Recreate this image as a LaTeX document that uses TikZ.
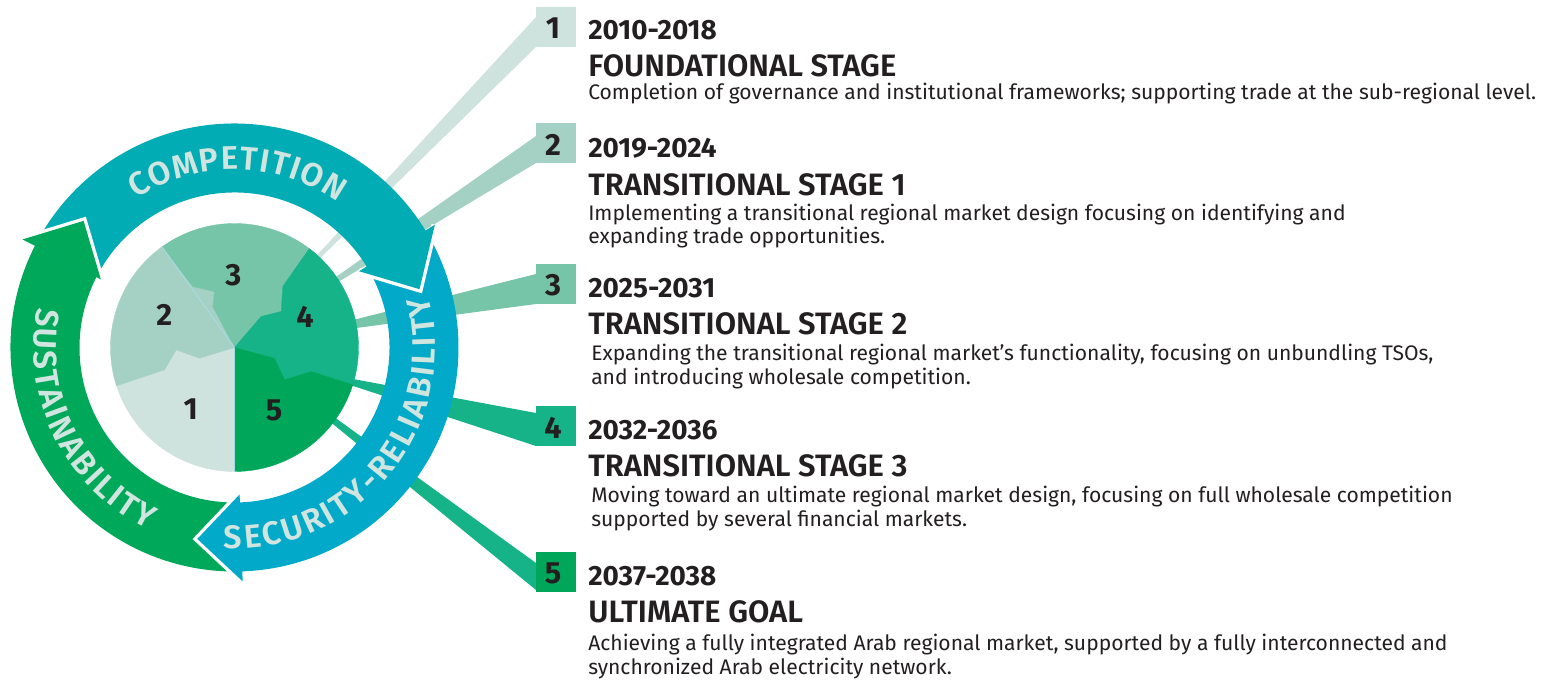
\documentclass[tikz,border=0pt]{standalone}
\usepackage{fontspec}
\setmainfont{Fira Sans}
\newfontfamily\semib{Fira Sans SemiBold}
\usetikzlibrary{decorations.text}
\definecolor{cA}{HTML}{CFE3DE}
\definecolor{cB}{HTML}{A4D1C3}
\definecolor{cC}{HTML}{76C5A8}
\definecolor{cD}{HTML}{17B388}
\definecolor{cE}{HTML}{00A75B}
\definecolor{cComp}{HTML}{02ACB4}
\definecolor{cSec}{HTML}{02A9C8}
\definecolor{cSus}{HTML}{00A85A}
\definecolor{cT}{HTML}{D0E5E0}
\definecolor{cK}{HTML}{231F20}
\definecolor{cL}{HTML}{A9D9E1}
\newcommand\ringfont{\fontsize{24.5}{24.5}\selectfont\semib}
\begin{document}
\begin{tikzpicture}[x=0.75pt,y=0.75pt,
  numbox/.style={minimum size=30pt, inner sep=0pt, outer sep=0pt},
  digit/.style={inner sep=0pt, font=\fontsize{23}{23}\selectfont\bfseries, text=cK},
  yr/.style={anchor=base west, inner sep=0pt, font=\fontsize{20.9}{20.9}\selectfont\bfseries, text=cK},
  hd/.style={anchor=base west, inner sep=0pt, font=\fontsize{23.2}{23.2}\selectfont\semib, text=cK},
  bd/.style={anchor=base west, inner sep=0pt, align=left, font=\fontsize{15.8}{18}\selectfont, text=cK},
  pl/.style={draw=cL, line width=0.8pt},
  gap/.style={draw=white, line width=5pt, line join=miter}]
\useasboundingbox (0,0) rectangle (1558,679);
\fill[white] (0,0) rectangle (1558,679);

% rays
\fill[cA] (313.2,419.6) -- (536,662) -- (536,632) -- (316,416.8) -- cycle;
\fill[cB] (331.4,398.8) -- (536,543) -- (536,516) -- (334.2,394.6) -- cycle;
\fill[cC] (349.5,358.1) -- (536,405) -- (536,375) -- (351.1,350.3) -- cycle;
\fill[cD] (348.2,300.9) -- (536,266) -- (536,233) -- (346.8,295.1) -- cycle;
\fill[cD] (331.1,264.2) -- (536,116) -- (536,89) -- (327.5,259.4) -- cycle;

% number boxes
\node[numbox, fill=cA] (n1) at (556,652) {};
\node[numbox, fill=cB] (n2) at (556,535.5) {};
\node[numbox, fill=cC] (n3) at (556,395) {};
\node[numbox, fill=cD] (n4) at (555.5,253) {};
\node[numbox, fill=cE] (n5) at (555.5,107) {};
\node[digit] (d1) at (553,650.5) {1};
\node[digit] (d2) at (553,534) {2};
\node[digit] (d3) at (553,393.5) {3};
\node[digit] (d4) at (553,251.5) {4};
\node[digit] (d5) at (553,105.5) {5};

\begin{scope}[shift={(234.5,331.5)}]
  % pie
  \fill[cA, draw=cA, line width=0.3pt] (0,0) -- (270:124) arc[start angle=270, end angle=198, radius=124] -- (-70,-22.3) -- (-58.3,-2.3) -- (-35,-10.7) -- cycle;
  \fill[cB, draw=cB, line width=0.3pt] (0,0) -- (-35,-10.7) -- (-58.3,-2.3) -- (-70,-22.3) -- (198:124) arc[start angle=198, end angle=125.8, radius=124] -- (-41.7,61) -- (-20,56) -- (-21.7,41) -- cycle;
  \fill[cC, draw=cC, line width=0.3pt] (0,0) -- (-21.7,41) -- (-20,56) -- (-41.7,61) -- (125.8:124) arc[start angle=125.8, end angle=52.9, radius=124] -- (48.3,61) -- (46.7,36) -- (26.7,31) -- cycle;
  \fill[cD, draw=cD, line width=0.3pt] (0,0) -- (26.7,31) -- (46.7,36) -- (48.3,61) -- (52.9:124) arc[start angle=52.9, end angle=-17.5, radius=124] -- (76.7,-24) -- (50,-32.3) -- (40,-10.7) -- cycle;
  \fill[cE, draw=cE, line width=0.3pt] (0,0) -- (40,-10.7) -- (50,-32.3) -- (76.7,-24) -- (-17.5:124) arc[start angle=-17.5, end angle=-90, radius=124] -- cycle;
  \draw[pl] (0,0) -- (270:124);
  \draw[pl] (0,0) -- (125.8:124);
  \node[digit] (p3) at (-1.2,72.5) {3};
  \node[digit] (p2) at (-70.2,32.5) {2};
  \node[digit] (p4) at (70.5,30.8) {4};
  \node[digit] (p1) at (-43.8,-61.8) {1};
  \node[digit] (p5) at (39.5,-62.5) {5};

  % ring bodies
  \fill[cSus] (152:224) arc[start angle=152, end angle=272, radius=224] -- (272:155) arc[start angle=272, end angle=152, radius=155] -- cycle;
  \fill[cSec] (-89:224) arc[start angle=-89, end angle=31.5, radius=224] -- (31.5:155) arc[start angle=31.5, end angle=-89, radius=155] -- cycle;
  \fill[cComp] (30.5:224) arc[start angle=30.5, end angle=153, radius=224] -- (153:155) arc[start angle=153, end angle=30.5, radius=155] -- cycle;

  % heads
  \draw[gap] (31.5:146) -- (17.5:194) -- (31.5:235);
  \fill[cComp] (31.5:146) -- (17.5:194) -- (31.5:235) -- cycle;
  \draw[gap] (-88:147) -- (-101:195) -- (-88:234);
  \fill[cSec] (-88:147) -- (-101:195) -- (-88:234) -- cycle;
  \draw[gap] (153:150) -- (140:197) -- (153:238);
  \fill[cSus] (153:150) -- (140:197) -- (153:238) -- cycle;

  % ring texts
  \path[decorate, decoration={text along path, text={|\ringfont|COMPETITION}, text align={fit to path}, text color=cT}]
    (123.5:178) arc[start angle=123.5, end angle=54.7, radius=178];
  \path[decorate, decoration={text along path, text={|\ringfont|SECURITY-RELIABILITY}, text align={fit to path}, text color=cT}]
    (-93:201) arc[start angle=-93, end angle=15, radius=201];
  \path[decorate, decoration={text along path, text={|\ringfont|SUSTAINABILITY}, text align={fit to path}, text color=cT}]
    (168.5:201) arc[start angle=168.5, end angle=244.5, radius=201];
\end{scope}

% right texts
\node[yr] (y1) at (588,639.5) {2010-2018};
\node[hd] (h1) at (588,602.5) {FOUNDATIONAL STAGE};
\node[bd] (t1) at (588,579) {Completion of governance and institutional frameworks; supporting trade at the sub-regional level.};

\node[yr] (y2) at (588,521.5) {2019-2024};
\node[hd] (h2) at (588,483.5) {TRANSITIONAL STAGE 1};
\node[bd] (t2) at (588,435) {Implementing a transitional regional market design focusing on identifying and\\expanding trade opportunities.};

\node[yr] (y3) at (588,381.5) {2025-2031};
\node[hd] (h3) at (588,344.5) {TRANSITIONAL STAGE 2};
\node[bd] (t3) at (591,295) {Expanding the transitional regional market’s functionality, focusing on unbundling TSOs,\\and introducing wholesale competition.};

\node[yr] (y4) at (588,239.5) {2032-2036};
\node[hd] (h4) at (588,202.5) {TRANSITIONAL STAGE 3};
\node[bd] (t4) at (591,153) {Moving toward an ultimate regional market design, focusing on full wholesale competition\\supported by several financial markets.};

\node[yr] (y5) at (588,93.5) {2037-2038};
\node[hd] (h5) at (588,56.5) {ULTIMATE GOAL};
\node[bd] (t5) at (588,5) {Achieving a fully integrated Arab regional market, supported by a fully interconnected and\\synchronized Arab electricity network.};
\end{tikzpicture}
\end{document}
